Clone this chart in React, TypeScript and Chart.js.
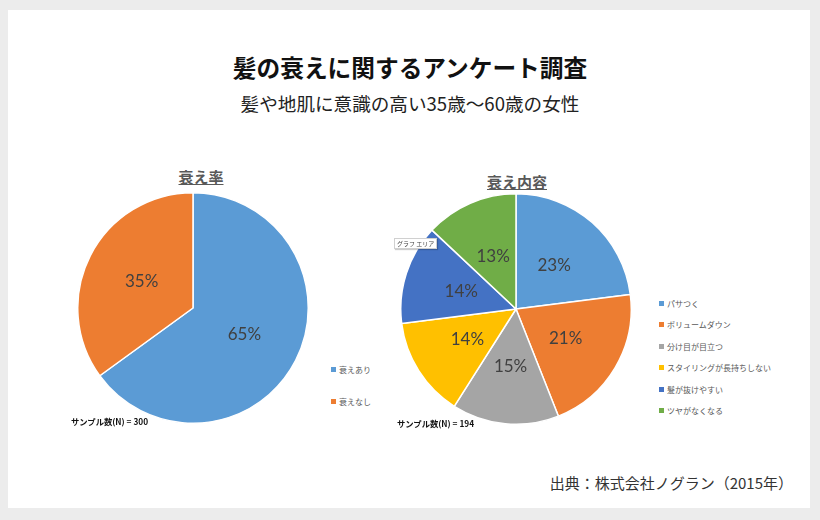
import React, { useEffect, useRef } from "react";
import { Chart, registerables } from "chart.js";

Chart.register(...registerables);

const titleText = "髪の衰えに関するアンケート調査";
const subtitleText = "髪や地肌に意識の高い35歳～60歳の女性";
const sourceText = "出典：株式会社ノグラン（2015年）";

const pie1Title = "衰え率";
const pie1Labels = ["衰えあり", "衰えなし"];
const pie1Values = [65, 35];
const pie1Colors = ["#5B9BD5", "#ED7D31"];
const pie1Sample = "サンプル数(N) = 300";

const pie2Title = "衰え内容";
const pie2Labels = [
  "パサつく",
  "ボリュームダウン",
  "分け目が目立つ",
  "スタイリングが長持ちしない",
  "髪が抜けやすい",
  "ツヤがなくなる",
];
const pie2Values = [23, 21, 15, 14, 14, 13];
const pie2Colors = ["#5B9BD5", "#ED7D31", "#A5A5A5", "#FFC000", "#4472C4", "#70AD47"];
const pie2Sample = "サンプル数(N) = 194";

const JP = '"Noto Sans CJK JP", "Noto Sans", sans-serif';

const pctLabelPlugin = {
  id: "pctLabels",
  afterDatasetsDraw(chart: any) {
    const ctx = chart.ctx;
    const meta = chart.getDatasetMeta(0);
    const data = chart.data.datasets[0].data as number[];
    ctx.save();
    ctx.font = '17px Lato, "Noto Sans", sans-serif';
    ctx.fillStyle = "#404040";
    ctx.textAlign = "center";
    ctx.textBaseline = "middle";
    meta.data.forEach((arc: any, i: number) => {
      const p = arc.getProps(["x", "y", "startAngle", "endAngle", "outerRadius"], true);
      const mid = (p.startAngle + p.endAngle) / 2;
      const r = p.outerRadius * 0.5;
      ctx.fillText(data[i] + "%", p.x + Math.cos(mid) * r, p.y + Math.sin(mid) * r);
    });
    ctx.restore();
  },
};

function PieCanvas({ labels, values, colors, left, top, size }: any) {
  const ref = useRef<HTMLCanvasElement>(null);
  useEffect(() => {
    if (!ref.current) return;
    const chart = new Chart(ref.current, {
      type: "pie",
      data: {
        labels,
        datasets: [
          {
            data: values,
            backgroundColor: colors,
            borderColor: "#ffffff",
            borderWidth: 1.5,
          },
        ],
      },
      options: {
        responsive: false,
        maintainAspectRatio: false,
        animation: false,
        layout: { padding: 2 },
        plugins: { legend: { display: false }, tooltip: { enabled: false } },
      },
      plugins: [pctLabelPlugin],
    });
    return () => chart.destroy();
  }, []);
  return (
    <canvas
      ref={ref}
      width={size}
      height={size}
      style={{ position: "absolute", left, top, width: size, height: size }}
    />
  );
}

function Text({ x, y, size, children, bold, color, center, underline, right }: any) {
  const lh = Math.round(size * 1.4);
  const style: any = {
    position: "absolute",
    top: y - lh / 2,
    lineHeight: lh + "px",
    fontSize: size,
    fontFamily: JP,
    fontWeight: bold ? 700 : 400,
    color: color || "#222",
    whiteSpace: "nowrap",
    textDecoration: underline ? "underline" : "none",
  };
  if (center) {
    style.left = x;
    style.transform = "translateX(-50%)";
  } else if (right) {
    style.right = 820 - x;
  } else {
    style.left = x;
  }
  return <div style={style}>{children}</div>;
}

function Legend({ labels, colors, x, y0, step }: any) {
  return (
    <>
      {labels.map((l: string, i: number) => (
        <React.Fragment key={l}>
          <div
            style={{
              position: "absolute",
              left: x,
              top: y0 + i * step - 2.5,
              width: 5,
              height: 5,
              background: colors[i],
            }}
          />
          <Text x={x + 8} y={y0 + i * step} size={8} color="#595959">
            {l}
          </Text>
        </React.Fragment>
      ))}
    </>
  );
}

export default function App() {
  return (
    <div
      style={{
        position: "fixed",
        left: 0,
        top: 0,
        width: 820,
        height: 520,
        background: "#ececec",
        overflow: "hidden",
      }}
    >
      <div
        style={{
          position: "absolute",
          left: 8,
          top: 10,
          width: 802,
          height: 498,
          background: "#ffffff",
        }}
      />
      <Text x={410} y={67} size={23.7} bold center color="#111">
        {titleText}
      </Text>
      <Text x={410} y={103} size={18.6} center color="#222">
        {subtitleText}
      </Text>

      <Text x={201} y={176} size={15} bold center underline color="#595959">
        {pie1Title}
      </Text>
      <PieCanvas labels={pie1Labels} values={pie1Values} colors={pie1Colors} left={75} top={190} size={236} />
      <Legend labels={pie1Labels} colors={pie1Colors} x={331} y0={369} step={32} />
      <Text x={71} y={421} size={8.3} bold color="#111">
        {pie1Sample}
      </Text>

      <Text x={517} y={181} size={15} bold center underline color="#595959">
        {pie2Title}
      </Text>
      <PieCanvas labels={pie2Labels} values={pie2Values} colors={pie2Colors} left={398} top={191} size={236} />
      <Legend labels={pie2Labels} colors={pie2Colors} x={659} y0={303} step={21.5} />
      <Text x={397} y={423} size={8.3} bold color="#111">
        {pie2Sample}
      </Text>

      <div
        style={{
          position: "absolute",
          left: 394,
          top: 238,
          height: 9,
          padding: "0 2px",
          background: "#fff",
          border: "1px solid #d0d0d0",
          boxShadow: "1px 1px 1px rgba(0,0,0,0.2)",
          fontSize: 6,
          lineHeight: "9px",
          fontFamily: JP,
          color: "#444",
          whiteSpace: "nowrap",
        }}
      >
        グラフ エリア
      </div>

      <Text x={793} y={482} size={15} right color="#333">
        {sourceText}
      </Text>
    </div>
  );
}
